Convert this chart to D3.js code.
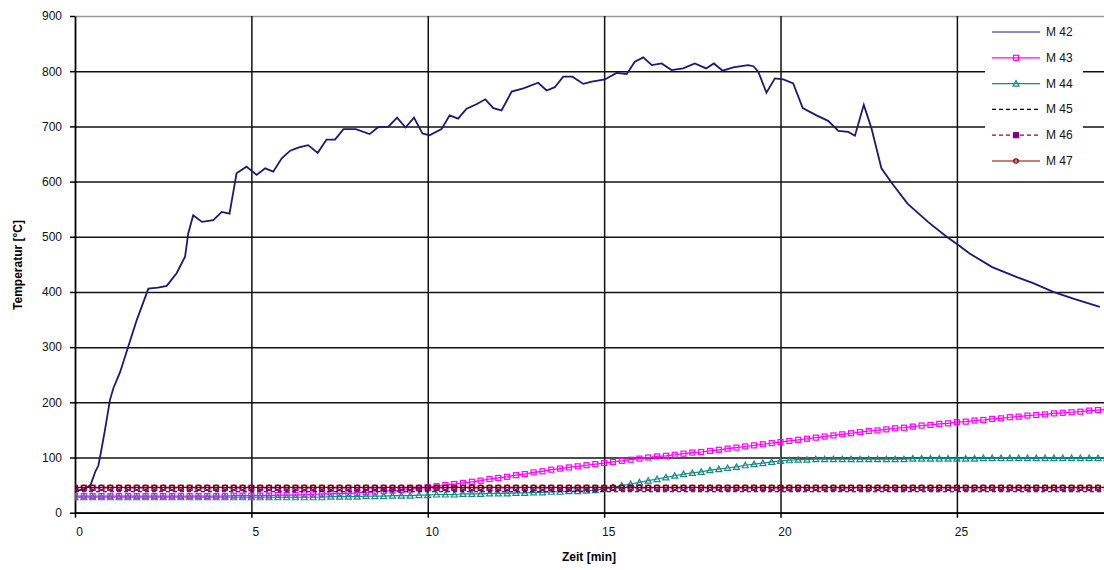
<!DOCTYPE html>
<html>
<head>
<meta charset="utf-8">
<script src="https://cdn.jsdelivr.net/npm/d3@7"></script>
<style>
  body { margin: 0; background: #fff; }
  svg { font-family: "Liberation Sans", Arial, sans-serif; }
</style>
</head>
<body>
<svg id="chart" width="1104" height="570"></svg>
<script>
// sampling step of the logger (minutes) for M43..M47
var sampleStep = 0.25;

var xTicks = [0, 5, 10, 15, 20, 25];
var yTicks = [0, 100, 200, 300, 400, 500, 600, 700, 800, 900];

// M42 as (minute, temperature)
var m42Time = [0, 0.25, 0.44, 0.58, 0.66, 0.71, 0.85, 0.99, 1.09, 1.28, 1.51, 1.75, 2.08, 2.35, 2.6, 2.88,
  3.12, 3.21, 3.35, 3.6, 3.92, 4.16, 4.38, 4.58, 4.86, 5.15, 5.39, 5.62, 5.86, 6.1, 6.35, 6.61, 6.88,
  7.13, 7.37, 7.61, 7.96, 8.35, 8.6, 8.88, 9.13, 9.37, 9.61, 9.85, 10.05, 10.39, 10.62, 10.86, 11.1,
  11.38, 11.63, 11.86, 12.09, 12.38, 12.71, 13.13, 13.37, 13.6, 13.84, 14.1, 14.41, 14.65, 15.02,
  15.35, 15.64, 15.87, 16.11, 16.35, 16.63, 16.91, 17.24, 17.57, 17.89, 18.11, 18.36, 18.66, 19.08,
  19.23, 19.37, 19.6, 19.84, 20.08, 20.36, 20.63, 21.02, 21.35, 21.64, 21.92, 22.11, 22.36, 22.58,
  22.86, 23.17, 23.6, 24.18, 24.71, 25.04, 25.35, 26.0, 26.7, 27.16, 27.73, 28.3, 29.05];
var m42Temp = [40, 42, 50, 75, 85, 101, 150, 204, 226, 255, 301, 349, 406, 408, 411, 434,
  464, 506, 539, 527, 530, 545, 542, 615, 627, 612, 624, 618, 642, 656, 662, 666, 652,
  676, 676, 695, 695, 686, 699, 699, 716, 698, 716, 687, 684, 695, 720, 714, 732,
  740, 749, 733, 729, 763, 769, 779, 765, 771, 790, 790, 777, 781, 785,
  797, 795, 817, 825, 811, 814, 802, 805, 814, 805, 814, 801, 807, 811,
  809, 799, 761, 787, 785, 778, 733, 720, 710, 692, 690, 683, 739, 696,
  624, 596, 560, 527, 500, 485, 470, 445, 427, 416, 400, 388, 373];

// M43..M47 one value every 0.25 min
var m43 = [30,30,30,30,30,30,30,30,30,30,30,30,30,30,30,30,30,30,31,31,
  31,31,31,32,32,32,33,33,34,34,35,35,36,37,38,39,40,41,42,44,
  46,48,50,52,54,56,58,61,63,65,68,70,73,75,78,80,82,84,86,88,
  90,92,94,96,98,100,102,103,105,107,109,110,112,114,116,118,120,122,124,126,
  128,130,132,134,136,138,140,142,144,146,148,149,151,153,154,156,158,159,161,162,
  164,165,167,168,170,171,173,174,176,177,178,180,181,182,183,185,186,187];
var m44 = [28,28,28,28,28,28,28,28,28,28,28,28,28,28,28,28,28,28,28,28,
  28,28,28,28,28,28,28,28,28,29,29,29,29,30,30,30,31,31,31,32,
  32,33,33,33,34,34,34,35,35,35,36,36,37,37,38,38,39,39,40,41,
  43,46,49,52,55,58,61,64,67,70,72,74,77,79,81,83,86,88,90,92,
  94,95,96,96,97,97,97,97,97,97,97,97,97,97,97,98,98,98,98,98,
  98,98,98,99,99,99,99,99,99,99,99,99,99,99,99,99,99,99];
var m45 = [38,38,38,38,38,38,38,38,38,38,38,38,38,38,38,38,38,38,38,38,
  38,38,38,38,38,38,38,38,38,38,38,38,38,38,38,38,38,38,38,38,
  38,38,38,38,38,38,38,38,38,38,38,38,38,38,38,38,38,38,38,38,
  38,38,38,38,38,38,38,38,38,38,38,38,38,38,38,38,38,38,38,38,
  38,38,38,38,38,38,38,38,38,38,38,38,38,38,38,38,38,38,38,38,
  38,38,38,38,38,38,38,38,38,38,38,38,38,38,38,38,38,38];
var m46 = [45,45,45,45,45,45,45,45,45,45,45,45,45,45,45,45,45,45,45,45,
  45,45,45,45,45,45,45,45,45,45,45,45,45,45,45,45,45,45,45,45,
  45,45,45,45,45,45,45,45,45,45,45,45,45,45,45,45,45,45,45,45,
  45,45,45,45,45,45,45,45,45,45,45,45,45,45,45,45,45,45,45,45,
  45,45,45,45,45,45,45,45,45,45,45,45,45,45,45,45,45,45,45,45,
  45,45,45,45,45,45,45,45,45,45,45,45,45,45,45,45,45,45];
var m47 = [46,46,46,46,46,46,46,46,46,46,46,46,46,46,46,46,46,46,46,46,
  46,46,46,46,46,46,46,46,46,46,46,46,46,46,46,46,46,46,46,46,
  46,46,46,46,46,46,46,46,46,46,46,46,46,46,46,46,46,46,46,46,
  46,46,46,46,46,46,46,46,46,46,46,46,46,46,46,46,46,46,46,46,
  46,46,46,46,46,46,46,46,46,46,46,46,46,46,46,46,46,46,46,46,
  46,46,46,46,46,46,46,46,46,46,46,46,46,46,46,46,46,46];

var svg = d3.select("#chart");
var plotLeft = 75, plotTop = 16, plotRight = 1104, plotBottom = 512.7;

var x = d3.scaleLinear().domain([0, 29.17]).range([plotLeft, plotRight]);
var y = d3.scaleLinear().domain([0, 900]).range([plotBottom, plotTop]);

svg.append("defs").append("clipPath").attr("id", "plotclip")
  .append("rect").attr("x", plotLeft).attr("y", plotTop - 2)
  .attr("width", plotRight - plotLeft).attr("height", plotBottom - plotTop + 4);

// grid
var gridY = svg.append("g").attr("transform", "translate(" + plotLeft + ",0)")
  .call(d3.axisLeft(y).tickValues(yTicks).tickSize(-(plotRight - plotLeft)).tickSizeOuter(0).tickFormat(""));
gridY.select(".domain").remove();
gridY.selectAll("line").attr("stroke", function(d) { return d == 900 ? "#999" : "#111"; }).attr("stroke-width", 1.5);

var gridX = svg.append("g").attr("transform", "translate(0," + plotTop + ")")
  .call(d3.axisBottom(x).tickValues(xTicks.slice(1)).tickSize(plotBottom - plotTop).tickSizeOuter(0).tickFormat(""));
gridX.select(".domain").remove();
gridX.selectAll("line").attr("stroke", "#111").attr("stroke-width", 1.5);

// axes
var yAxis = svg.append("g").attr("transform", "translate(" + plotLeft + ",0)")
  .call(d3.axisLeft(y).tickValues(yTicks).tickSize(5).tickSizeOuter(0).tickPadding(8));
yAxis.select(".domain").attr("stroke", "#000").attr("stroke-width", 1.8);
yAxis.selectAll("line").attr("stroke", "#000").attr("stroke-width", 1.5);
yAxis.selectAll("text").attr("font-size", 12).attr("fill", "#111")
  .attr("font-family", "Liberation Sans, Arial, sans-serif");

var xAxis = svg.append("g").attr("transform", "translate(0," + plotBottom + ")")
  .call(d3.axisBottom(x).tickValues(xTicks).tickSize(5).tickSizeOuter(0).tickPadding(10));
xAxis.select(".domain").attr("stroke", "#000").attr("stroke-width", 1.8);
xAxis.selectAll("line").attr("stroke", "#000").attr("stroke-width", 1.5);
xAxis.selectAll("text").attr("font-size", 12).attr("fill", "#111").attr("dx", 4)
  .attr("font-family", "Liberation Sans, Arial, sans-serif");

// axis titles
svg.append("text").attr("transform", "translate(22,265) rotate(-90)")
  .attr("text-anchor", "middle").attr("font-size", 12).attr("font-weight", "bold")
  .text("Temperatur [°C]");
svg.append("text").attr("x", 589).attr("y", 561)
  .attr("text-anchor", "middle").attr("font-size", 12).attr("font-weight", "bold")
  .text("Zeit [min]");

// series
var plot = svg.append("g").attr("clip-path", "url(#plotclip)");

var lineT = d3.line().x(function(d) { return x(d[0]); }).y(function(d) { return y(d[1]); });
function sampled(vals) {
  return vals.map(function(v, i) { return [i * sampleStep, v]; });
}

var series = [
  { name: "M 42", pts: m42Time.map(function(t, i) { return [t, m42Temp[i]]; }), color: "#1a1a70", dash: null, marker: null, width: 1.8 },
  { name: "M 43", pts: sampled(m43), color: "#ff00ff", dash: null, marker: "square", width: 1.2 },
  { name: "M 44", pts: sampled(m44), color: "#168a8a", dash: null, marker: "triangle", width: 1.2 },
  { name: "M 45", pts: sampled(m45), color: "#000000", dash: "4,3", marker: null, width: 1.2 },
  { name: "M 46", pts: sampled(m46), color: "#800080", dash: "4,3", marker: "square", width: 1.2 },
  { name: "M 47", pts: sampled(m47), color: "#800000", dash: null, marker: "circle", width: 1.2 }
];

function drawMarker(g, type, color, cx, cy, fillIt) {
  if (type == "square") {
    g.append("rect").attr("x", cx - 2.5).attr("y", cy - 2.5).attr("width", 5).attr("height", 5)
      .attr("fill", fillIt ? color : "none").attr("stroke", color).attr("stroke-width", 1.2);
  } else if (type == "triangle") {
    g.append("path").attr("d", "M" + cx + "," + (cy - 3) + "L" + (cx + 3) + "," + (cy + 2.5) + "L" + (cx - 3) + "," + (cy + 2.5) + "Z")
      .attr("fill", "none").attr("stroke", color).attr("stroke-width", 1.2);
  } else if (type == "circle") {
    g.append("circle").attr("cx", cx).attr("cy", cy).attr("r", 2.2)
      .attr("fill", "none").attr("stroke", color).attr("stroke-width", 1.2);
  }
}

series.forEach(function(s) {
  var g = plot.append("g");
  g.append("path").attr("d", lineT(s.pts)).attr("fill", "none")
    .attr("stroke", s.color).attr("stroke-width", s.width)
    .attr("stroke-dasharray", s.dash);
  if (s.marker) {
    s.pts.forEach(function(p) {
      drawMarker(g, s.marker, s.color, x(p[0]), y(p[1]), false);
    });
  }
});

// legend
var legend = svg.append("g");
legend.append("rect").attr("x", 985).attr("y", 18).attr("width", 98).attr("height", 160).attr("fill", "#fff");
series.forEach(function(s, i) {
  var ly = 32 + i * 25.8;
  legend.append("line").attr("x1", 992).attr("x2", 1040).attr("y1", ly).attr("y2", ly)
    .attr("stroke", s.color).attr("stroke-width", 1.2).attr("stroke-dasharray", s.dash);
  if (s.marker) drawMarker(legend, s.marker, s.color, 1016, ly, s.name == "M 46");
  legend.append("text").attr("x", 1046).attr("y", ly + 4).attr("font-size", 12).attr("fill", "#111").text(s.name);
});
</script>
</body>
</html>
